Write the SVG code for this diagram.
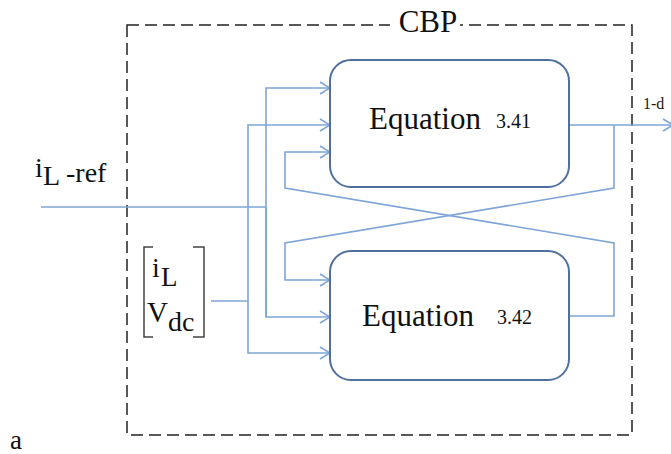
<svg xmlns="http://www.w3.org/2000/svg" width="671" height="454" viewBox="0 0 671 454">
<style>
.frame{fill:none;stroke:#222;stroke-width:1.5;stroke-dasharray:12 6}
.box{fill:#fff;stroke:#4f6f9f;stroke-width:2}
.wire{fill:none;stroke:#7fa5d6;stroke-width:1.6}
.t{fill:#111;font-family:"Liberation Serif",serif}
.brk{fill:none;stroke:#444;stroke-width:1.5}
</style>
<defs>
<marker id="arr" markerUnits="userSpaceOnUse" markerWidth="12" markerHeight="14" refX="11" refY="7" orient="auto">
<path d="M1,1 L11,7 L1,13" fill="none" stroke="#7fa5d6" stroke-width="1.6"/>
</marker>
</defs>
<rect width="671" height="454" fill="#fff"/>
<g id="cbp-frame">
<rect class="frame" x="127" y="25" width="505" height="410"/>
<rect x="390" y="18" width="70" height="14" fill="#fff"/>
<text class="t" style="font-family:'Liberation Serif',serif" x="428" y="32" font-size="31" text-anchor="middle">CBP</text>
</g>
<g id="connectors">
<polyline class="wire" points="41,207 266,207"/>
<polyline class="wire" points="266,317 266,88 330,88" marker-end="url(#arr)"/>
<polyline class="wire" points="266,207 266,317 330,317" marker-end="url(#arr)"/>
<polyline class="wire" points="211,301 248,301"/>
<polyline class="wire" points="248,301 248,125 330,125" marker-end="url(#arr)"/>
<polyline class="wire" points="248,301 248,353 330,353" marker-end="url(#arr)"/>
<polyline class="wire" points="569,125 673,125" marker-end="url(#arr)"/>
<polyline class="wire" points="614,125 614,188 285,243 285,280 330,280" marker-end="url(#arr)"/>
<polyline class="wire" points="569,316 614,316 614,243 285,188 285,152 330,152" marker-end="url(#arr)"/>
</g>
<g id="eq341">
<rect class="box" x="330" y="60" width="239" height="127" rx="21"/>
<text class="t" style="font-family:'Liberation Serif',serif" x="369" y="129" font-size="31">Equation</text>
<text class="t" style="font-family:'Liberation Serif',serif" x="496" y="128" font-size="20">3.41</text>
</g>
<g id="eq342">
<rect class="box" x="330" y="251" width="239" height="129" rx="21"/>
<text class="t" style="font-family:'Liberation Serif',serif" x="362" y="326" font-size="31">Equation</text>
<text class="t" style="font-family:'Liberation Serif',serif" x="497" y="324" font-size="20">3.42</text>
</g>
<g id="input-ref">
<text class="t" style="font-family:'Liberation Serif',serif" x="35" y="177" font-size="28">i</text>
<text class="t" style="font-family:'Liberation Serif',serif" x="43" y="185" font-size="28">L</text>
<text class="t" style="font-family:'Liberation Serif',serif" x="66" y="182" font-size="28">-ref</text>
</g>
<g id="input-vector">
<path class="brk" d="M153,247 H144 V337 H153"/>
<path class="brk" d="M193,247 H204 V337 H193"/>
<text class="t" style="font-family:'Liberation Serif',serif" x="152" y="277" font-size="28">i</text>
<text class="t" style="font-family:'Liberation Serif',serif" x="161" y="286" font-size="27">L</text>
<text class="t" style="font-family:'Liberation Serif',serif" x="147" y="322" font-size="29">V</text>
<text class="t" style="font-family:'Liberation Serif',serif" x="168" y="331" font-size="28">dc</text>
</g>
<g id="output-label">
<text style="font-family:'Liberation Serif',serif" x="643" y="109" font-size="16" fill="#2a1510">1-d</text>
</g>
<text class="t" style="font-family:'Liberation Serif',serif" x="10" y="449" font-size="27">a</text>
</svg>
